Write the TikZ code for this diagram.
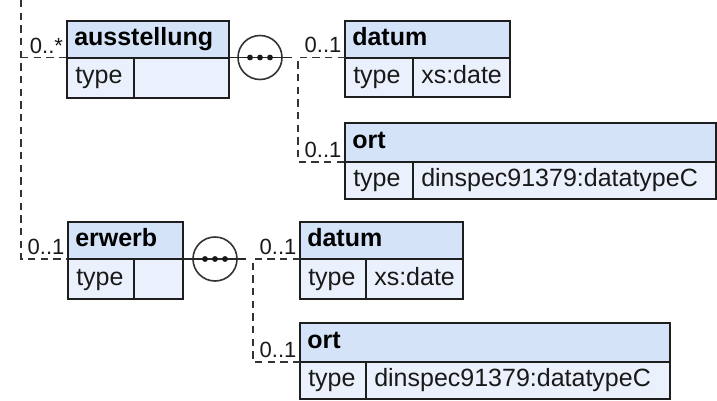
\documentclass[tikz,border=0pt]{standalone}
\usepackage{fontspec}
\setmainfont{Liberation Sans}
\definecolor{hdrfill}{HTML}{D5E3F8}
\definecolor{bodyfill}{HTML}{EBF1FC}
\definecolor{bordercol}{HTML}{1E1E1E}
\tikzset{
 box/.style={draw=bordercol, line width=1.5pt, inner sep=0pt, outer sep=0pt, anchor=north west},
 hdr/.style={box, fill=hdrfill},
 cellbox/.style={box, fill=bodyfill},
 ttl/.style={font=\fontsize{18.75}{22}\selectfont\bfseries, inner sep=0pt, anchor=base west, text=black},
 txt/.style={font=\fontsize{18.75}{22}\selectfont, inner sep=0pt, anchor=base west, text=black!90},
 mult/.style={font=\fontsize{16.5}{19}\selectfont, inner sep=0pt, anchor=base east, text=black!90},
 dl/.style={draw=black!80, line width=1.1pt, dash pattern=on 5.5pt off 4pt},
 sl/.style={draw=black!85, line width=1.1pt},
 seqc/.style={circle, draw=black!80, line width=1.2pt, fill=white, minimum size=33pt, inner sep=0pt, outer sep=0pt},
 dotc/.style={fill=black!90},
}
\begin{document}
\begin{tikzpicture}[x=0.75pt,y=-0.75pt]
\useasboundingbox (0,0) rectangle (717,400);

% ausstellung
\node[hdr, minimum width=121.5pt, minimum height=27.375pt] (aus) at (67,21) {};
\node[cellbox, minimum width=50.25pt, minimum height=30pt] (aust) at (aus.south west) {};
\node[cellbox, minimum width=71.25pt, minimum height=30pt] (ausv) at (aust.north east) {};
\node[ttl] (ausn) at ([xshift=5.25pt,yshift=-4.5pt]aus.west) {ausstellung};
\node[txt] (austt) at ([xshift=6pt,yshift=-4.5pt]aust.west) {type};

% datum 1
\node[hdr, minimum width=123.75pt, minimum height=27.375pt] (dat1) at (345,21) {};
\node[cellbox, minimum width=51pt, minimum height=29.6pt] (dat1t) at (dat1.south west) {};
\node[cellbox, minimum width=72.75pt, minimum height=29.6pt] (dat1v) at (dat1t.north east) {};
\node[ttl] (dat1n) at ([xshift=5.25pt,yshift=-4.5pt]dat1.west) {datum};
\node[txt] (dat1tt) at ([xshift=6pt,yshift=-4.5pt]dat1t.west) {type};
\node[txt] (dat1vt) at ([xshift=6pt,yshift=-4.5pt]dat1v.west) {xs:date};

% ort 1
\node[hdr, minimum width=278.25pt, minimum height=29.25pt] (ort1) at (345,123) {};
\node[cellbox, minimum width=51pt, minimum height=27.75pt] (ort1t) at (ort1.south west) {};
\node[cellbox, minimum width=227.25pt, minimum height=27.75pt] (ort1v) at (ort1t.north east) {};
\node[ttl] (ort1n) at ([xshift=5.25pt,yshift=-4.5pt]ort1.west) {ort};
\node[txt] (ort1tt) at ([xshift=6pt,yshift=-4.5pt]ort1t.west) {type};
\node[txt] (ort1vt) at ([xshift=6pt,yshift=-4.5pt]ort1v.west) {dinspec91379:datatypeC};

% erwerb
\node[hdr, minimum width=86.25pt, minimum height=27.75pt] (erw) at (68,222) {};
\node[cellbox, minimum width=49.5pt, minimum height=30pt] (erwt) at (erw.south west) {};
\node[cellbox, minimum width=36.75pt, minimum height=30pt] (erwv) at (erwt.north east) {};
\node[ttl] (erwn) at ([xshift=5.25pt,yshift=-4.5pt]erw.west) {erwerb};
\node[txt] (erwtt) at ([xshift=6pt,yshift=-4.5pt]erwt.west) {type};

% datum 2
\node[hdr, minimum width=122.25pt, minimum height=27.75pt] (dat2) at (300,222) {};
\node[cellbox, minimum width=49.5pt, minimum height=30pt] (dat2t) at (dat2.south west) {};
\node[cellbox, minimum width=72.75pt, minimum height=30pt] (dat2v) at (dat2t.north east) {};
\node[ttl] (dat2n) at ([xshift=5.25pt,yshift=-4.5pt]dat2.west) {datum};
\node[txt] (dat2tt) at ([xshift=6pt,yshift=-4.5pt]dat2t.west) {type};
\node[txt] (dat2vt) at ([xshift=6pt,yshift=-4.5pt]dat2v.west) {xs:date};

% ort 2
\node[hdr, minimum width=277.5pt, minimum height=29.25pt] (ort2) at (300,323) {};
\node[cellbox, minimum width=49.5pt, minimum height=27.75pt] (ort2t) at (ort2.south west) {};
\node[cellbox, minimum width=228pt, minimum height=27.75pt] (ort2v) at (ort2t.north east) {};
\node[ttl] (ort2n) at ([xshift=5.25pt,yshift=-4.5pt]ort2.west) {ort};
\node[txt] (ort2tt) at ([xshift=6pt,yshift=-4.5pt]ort2t.west) {type};
\node[txt] (ort2vt) at ([xshift=6pt,yshift=-4.5pt]ort2v.west) {dinspec91379:datatypeC};

% sequence compositors
\node[seqc] (seq1) at (260,57.5) {};
\node[seqc] (seq2) at (215,259) {};
\coordinate (j1) at (292,57.5);
\coordinate (c1) at (298,57.5);
\coordinate (j2) at (246,259);
\coordinate (c2) at (253,259);
\draw[sl] (aus.south east) -- (j1);
\draw[sl] (erw.south east) -- (j2);
\foreach \s in {seq1,seq2}{
  \fill[dotc] ([xshift=-7.5pt]\s.center) circle (2.2pt);
  \fill[dotc] (\s.center) circle (2.2pt);
  \fill[dotc] ([xshift=7.5pt]\s.center) circle (2.2pt);
}

% trunk and branches
\coordinate (t0) at (21,0);
\draw[dl] (t0) |- (erw.south west);
\draw[dl] (t0 |- aus.south west) -- (aus.south west);
\draw[dl] (dat1.south west) -- (c1) |- (ort1.south west);
\draw[dl] (dat2.south west) -- (c2) |- (ort2.south west);

% multiplicities
\node[mult] (m1) at ([xshift=-2.8pt,yshift=3.2pt]aus.south west) {0..*};
\node[mult] (m2) at ([xshift=-2.5pt,yshift=3.5pt]dat1.south west) {0..1};
\node[mult] (m3) at ([xshift=-2.5pt,yshift=3.5pt]ort1.south west) {0..1};
\node[mult] (m4) at ([xshift=-2.5pt,yshift=3.2pt]erw.south west) {0..1};
\node[mult] (m5) at ([xshift=-2.5pt,yshift=3.5pt]dat2.south west) {0..1};
\node[mult] (m6) at ([xshift=-2.5pt,yshift=3.5pt]ort2.south west) {0..1};
\end{tikzpicture}
\end{document}
